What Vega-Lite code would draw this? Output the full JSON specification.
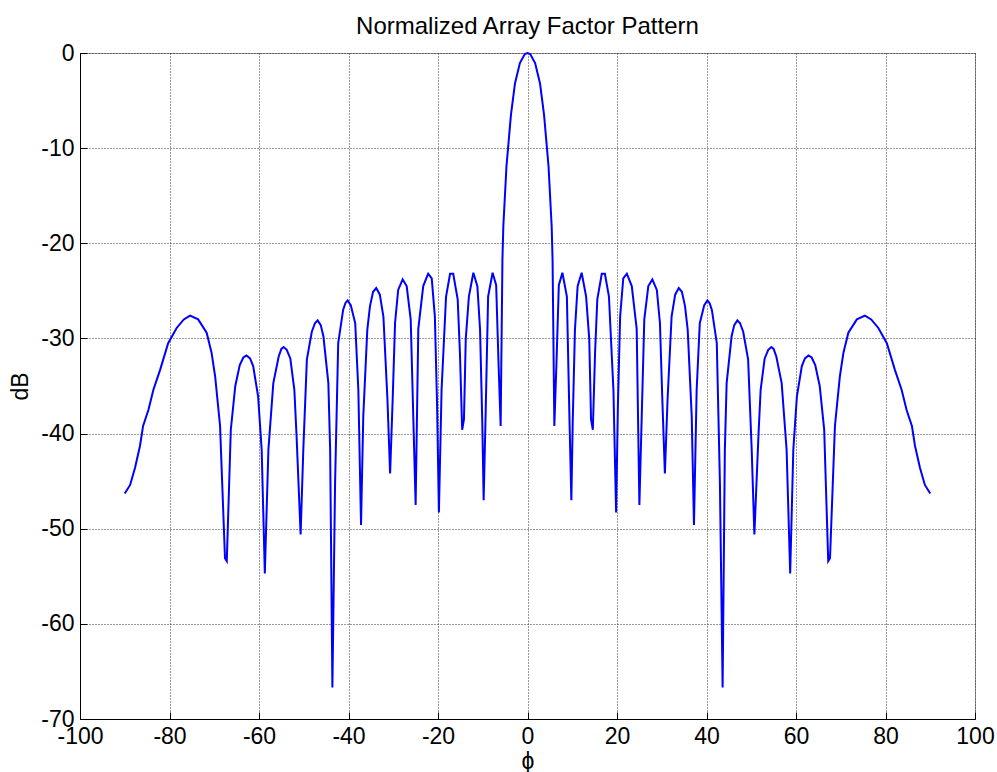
{
  "$schema": "https://vega.github.io/schema/vega-lite/v6.json",
  "width": 895,
  "height": 666,
  "autosize": {"type": "none"},
  "padding": {"left": 80, "top": 53, "right": 22, "bottom": 53},
  "background": "white",
  "title": {"text": "Normalized Array Factor Pattern", "font": "Liberation Sans", "fontSize": 24, "fontWeight": "normal", "color": "#000", "offset": 3, "anchor": "middle"},
  "config": {
    "view": {"stroke": "#999", "strokeWidth": 1},
    "axis": {
      "labelFont": "Liberation Sans", "labelFontSize": 23, "labelColor": "#000",
      "titleFont": "Liberation Sans", "titleFontSize": 23, "titleFontWeight": "normal", "titleColor": "#000",
      "grid": true, "gridColor": "#333", "gridDash": [1, 2], "gridWidth": 1, "gridOpacity": 1,
      "domainColor": "#000", "tickColor": "#000", "tickSize": -7, "labelPadding": 13,
      "labelFlush": false, "labelOverlap": false,
      "labelExpr": "datum.value + ''"
    }
  },
  "data": {"values": [
    {"phi": -90, "dB": -46.3}, {"phi": -88.8, "dB": -45.4}, {"phi": -87.7, "dB": -43.6}, {"phi": -86.6, "dB": -41.3},
    {"phi": -85.9, "dB": -39.2}, {"phi": -84.7, "dB": -37.5}, {"phi": -83.6, "dB": -35.4}, {"phi": -82.1, "dB": -33.3},
    {"phi": -80.3, "dB": -30.5}, {"phi": -78.4, "dB": -28.9}, {"phi": -76.8, "dB": -28.0}, {"phi": -75.4, "dB": -27.6},
    {"phi": -73.6, "dB": -28.0}, {"phi": -71.7, "dB": -29.4}, {"phi": -70.6, "dB": -31.5}, {"phi": -69.8, "dB": -34.0},
    {"phi": -68.7, "dB": -39.2}, {"phi": -67.6, "dB": -53.1}, {"phi": -67.2, "dB": -53.4}, {"phi": -66.3, "dB": -39.6},
    {"phi": -65.3, "dB": -35.0}, {"phi": -64.3, "dB": -32.8}, {"phi": -63.5, "dB": -32.0}, {"phi": -62.8, "dB": -31.8}, {"phi": -62.0, "dB": -32.1}, {"phi": -61.3, "dB": -32.9},
    {"phi": -60.2, "dB": -36.1}, {"phi": -59.4, "dB": -41.7}, {"phi": -58.7, "dB": -54.7}, {"phi": -57.9, "dB": -41.7},
    {"phi": -56.8, "dB": -34.7}, {"phi": -55.6, "dB": -31.9}, {"phi": -55.0, "dB": -31.1}, {"phi": -54.5, "dB": -30.9}, {"phi": -53.8, "dB": -31.2}, {"phi": -53.0, "dB": -32.1},
    {"phi": -52.1, "dB": -35.4}, {"phi": -51.6, "dB": -40.3}, {"phi": -50.7, "dB": -50.6}, {"phi": -50.1, "dB": -41.7},
    {"phi": -49.3, "dB": -32.2}, {"phi": -48.2, "dB": -29.3}, {"phi": -47.5, "dB": -28.4}, {"phi": -46.9, "dB": -28.1}, {"phi": -46.2, "dB": -28.6}, {"phi": -45.6, "dB": -29.8},
    {"phi": -44.5, "dB": -34.7}, {"phi": -44.1, "dB": -41.7}, {"phi": -43.6, "dB": -66.7}, {"phi": -43.0, "dB": -45.2},
    {"phi": -42.3, "dB": -30.5}, {"phi": -41.2, "dB": -27.0}, {"phi": -40.7, "dB": -26.3}, {"phi": -40.2, "dB": -26.0}, {"phi": -39.5, "dB": -26.5}, {"phi": -38.5, "dB": -28.4},
    {"phi": -37.8, "dB": -35.4}, {"phi": -37.2, "dB": -49.6}, {"phi": -36.7, "dB": -38.2}, {"phi": -35.8, "dB": -29.1},
    {"phi": -35.2, "dB": -26.6}, {"phi": -34.5, "dB": -25.1}, {"phi": -33.8, "dB": -24.7}, {"phi": -33.0, "dB": -25.4}, {"phi": -32.2, "dB": -27.7}, {"phi": -31.3, "dB": -36.4},
    {"phi": -30.7, "dB": -44.2}, {"phi": -30.1, "dB": -36.0}, {"phi": -29.6, "dB": -28.4}, {"phi": -28.9, "dB": -24.9},
    {"phi": -27.9, "dB": -23.8}, {"phi": -27.0, "dB": -24.5}, {"phi": -26.1, "dB": -28.0}, {"phi": -25.0, "dB": -47.5},
    {"phi": -24.4, "dB": -29.0}, {"phi": -23.3, "dB": -24.5}, {"phi": -22.2, "dB": -23.2}, {"phi": -21.4, "dB": -23.7},
    {"phi": -20.7, "dB": -27.7}, {"phi": -20.2, "dB": -37.1}, {"phi": -19.8, "dB": -48.3}, {"phi": -19.2, "dB": -35.4},
    {"phi": -18.2, "dB": -25.6}, {"phi": -17.3, "dB": -23.2}, {"phi": -16.6, "dB": -23.2}, {"phi": -15.6, "dB": -25.9},
    {"phi": -15.1, "dB": -31.5}, {"phi": -14.6, "dB": -39.6}, {"phi": -14.2, "dB": -38.5}, {"phi": -13.8, "dB": -30.1},
    {"phi": -13.1, "dB": -25.6}, {"phi": -12.1, "dB": -23.1}, {"phi": -11.2, "dB": -24.5}, {"phi": -10.6, "dB": -29.1},
    {"phi": -10.1, "dB": -38.9}, {"phi": -9.8, "dB": -47.0}, {"phi": -9.4, "dB": -38.9}, {"phi": -8.8, "dB": -25.6},
    {"phi": -7.8, "dB": -23.1}, {"phi": -7.0, "dB": -24.4}, {"phi": -6.5, "dB": -32.2}, {"phi": -6.0, "dB": -39.2},
    {"phi": -5.6, "dB": -21.7}, {"phi": -5.4, "dB": -18.2}, {"phi": -4.7, "dB": -11.9}, {"phi": -3.7, "dB": -6.5},
    {"phi": -2.8, "dB": -3.2}, {"phi": -1.7, "dB": -1.05}, {"phi": -0.6, "dB": -0.1}, {"phi": 0, "dB": 0},
    {"phi": 0.6, "dB": -0.1}, {"phi": 1.7, "dB": -1.05}, {"phi": 2.8, "dB": -3.2}, {"phi": 3.7, "dB": -6.5},
    {"phi": 4.7, "dB": -11.9}, {"phi": 5.4, "dB": -18.2}, {"phi": 5.6, "dB": -21.7}, {"phi": 6.0, "dB": -39.2},
    {"phi": 6.5, "dB": -32.2}, {"phi": 7.0, "dB": -24.4}, {"phi": 7.8, "dB": -23.1}, {"phi": 8.8, "dB": -25.6},
    {"phi": 9.4, "dB": -38.9}, {"phi": 9.8, "dB": -47.0}, {"phi": 10.1, "dB": -38.9}, {"phi": 10.6, "dB": -29.1},
    {"phi": 11.2, "dB": -24.5}, {"phi": 12.1, "dB": -23.1}, {"phi": 13.1, "dB": -25.6}, {"phi": 13.8, "dB": -30.1},
    {"phi": 14.2, "dB": -38.5}, {"phi": 14.6, "dB": -39.6}, {"phi": 15.1, "dB": -31.5}, {"phi": 15.6, "dB": -25.9},
    {"phi": 16.6, "dB": -23.2}, {"phi": 17.3, "dB": -23.2}, {"phi": 18.2, "dB": -25.6}, {"phi": 19.2, "dB": -35.4},
    {"phi": 19.8, "dB": -48.3}, {"phi": 20.2, "dB": -37.1}, {"phi": 20.7, "dB": -27.7}, {"phi": 21.4, "dB": -23.7},
    {"phi": 22.2, "dB": -23.2}, {"phi": 23.3, "dB": -24.5}, {"phi": 24.4, "dB": -29.0}, {"phi": 25.0, "dB": -47.5},
    {"phi": 26.1, "dB": -28.0}, {"phi": 27.0, "dB": -24.5}, {"phi": 27.9, "dB": -23.8}, {"phi": 28.9, "dB": -24.9},
    {"phi": 29.6, "dB": -28.4}, {"phi": 30.1, "dB": -36.0}, {"phi": 30.7, "dB": -44.2}, {"phi": 31.3, "dB": -36.4},
    {"phi": 32.2, "dB": -27.7}, {"phi": 33.0, "dB": -25.4}, {"phi": 33.8, "dB": -24.7}, {"phi": 34.5, "dB": -25.1}, {"phi": 35.2, "dB": -26.6}, {"phi": 35.8, "dB": -29.1},
    {"phi": 36.7, "dB": -38.2}, {"phi": 37.2, "dB": -49.6}, {"phi": 37.8, "dB": -35.4}, {"phi": 38.5, "dB": -28.4},
    {"phi": 39.5, "dB": -26.5}, {"phi": 40.2, "dB": -26.0}, {"phi": 40.7, "dB": -26.3}, {"phi": 41.2, "dB": -27.0}, {"phi": 42.3, "dB": -30.5}, {"phi": 43.0, "dB": -45.2},
    {"phi": 43.6, "dB": -66.7}, {"phi": 44.1, "dB": -41.7}, {"phi": 44.5, "dB": -34.7}, {"phi": 45.6, "dB": -29.8},
    {"phi": 46.2, "dB": -28.6}, {"phi": 46.9, "dB": -28.1}, {"phi": 47.5, "dB": -28.4}, {"phi": 48.2, "dB": -29.3}, {"phi": 49.3, "dB": -32.2}, {"phi": 50.1, "dB": -41.7},
    {"phi": 50.7, "dB": -50.6}, {"phi": 51.6, "dB": -40.3}, {"phi": 52.1, "dB": -35.4}, {"phi": 53.0, "dB": -32.1},
    {"phi": 53.8, "dB": -31.2}, {"phi": 54.5, "dB": -30.9}, {"phi": 55.0, "dB": -31.1}, {"phi": 55.6, "dB": -31.9}, {"phi": 56.8, "dB": -34.7}, {"phi": 57.9, "dB": -41.7},
    {"phi": 58.7, "dB": -54.7}, {"phi": 59.4, "dB": -41.7}, {"phi": 60.2, "dB": -36.1}, {"phi": 61.3, "dB": -32.9},
    {"phi": 62.0, "dB": -32.1}, {"phi": 62.8, "dB": -31.8}, {"phi": 63.5, "dB": -32.0}, {"phi": 64.3, "dB": -32.8}, {"phi": 65.3, "dB": -35.0}, {"phi": 66.3, "dB": -39.6},
    {"phi": 67.2, "dB": -53.4}, {"phi": 67.6, "dB": -53.1}, {"phi": 68.7, "dB": -39.2}, {"phi": 69.8, "dB": -34.0},
    {"phi": 70.6, "dB": -31.5}, {"phi": 71.7, "dB": -29.4}, {"phi": 73.6, "dB": -28.0}, {"phi": 75.4, "dB": -27.6},
    {"phi": 76.8, "dB": -28.0}, {"phi": 78.4, "dB": -28.9}, {"phi": 80.3, "dB": -30.5}, {"phi": 82.1, "dB": -33.3},
    {"phi": 83.6, "dB": -35.4}, {"phi": 84.7, "dB": -37.5}, {"phi": 85.9, "dB": -39.2}, {"phi": 86.6, "dB": -41.3},
    {"phi": 87.7, "dB": -43.6}, {"phi": 88.8, "dB": -45.4}, {"phi": 90, "dB": -46.3}
  ]},
  "mark": {"type": "line", "color": "#0000ff", "strokeWidth": 2, "interpolate": "linear"},
  "encoding": {
    "x": {"field": "phi", "type": "quantitative", "title": "ϕ",
      "scale": {"domain": [-100, 100], "nice": false},
      "axis": {"values": [-100, -80, -60, -40, -20, 0, 20, 40, 60, 80, 100], "titlePadding": 2}},
    "y": {"field": "dB", "type": "quantitative", "title": "dB",
      "scale": {"domain": [-70, 0], "nice": false},
      "axis": {"values": [-70, -60, -50, -40, -30, -20, -10, 0], "titlePadding": 8}}
  }
}
